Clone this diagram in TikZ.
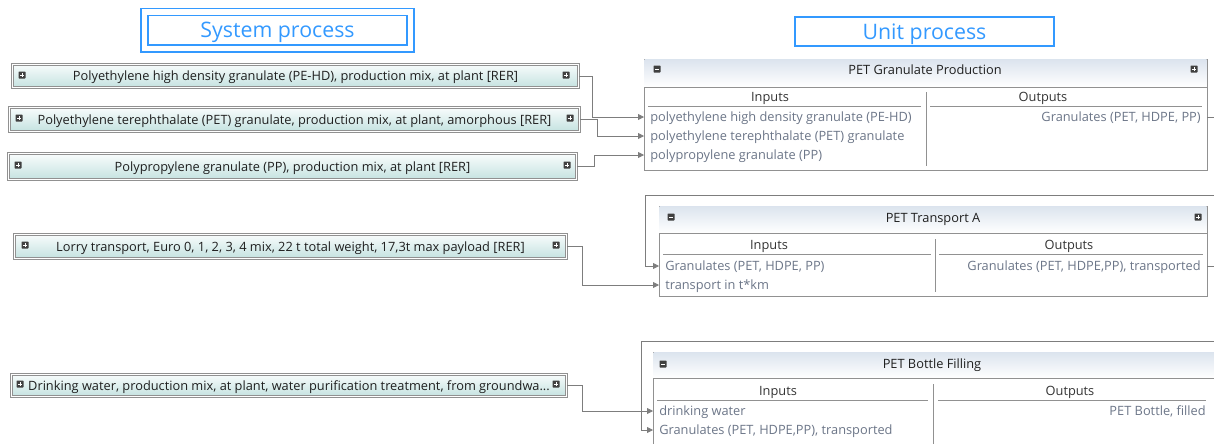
\documentclass[tikz,border=0pt]{standalone}
\usepackage{fontspec}
\setmainfont{Open Sans}
\usetikzlibrary{arrows.meta,positioning,shadings}
\definecolor{framegray}{RGB}{145,145,145}
\definecolor{linkgray}{RGB}{125,125,125}
\definecolor{titleblue}{RGB}{51,153,255}
\definecolor{rowtext}{RGB}{108,118,136}
\definecolor{tealtop}{RGB}{248,252,252}
\definecolor{tealbot}{RGB}{196,226,224}
\definecolor{headtop}{RGB}{220,228,238}
\tikzset{%
	headbox/.style={draw=titleblue, text=titleblue, inner sep=0, text depth=0pt, font=\fontsize{16}{19}\selectfont},
	sysbox/.style={draw=framegray, line width=0.7pt, double=white, double distance=0.8pt, top color=tealtop, bottom color=tealbot, inner sep=0, text depth=0pt, text=black!88, font=\fontsize{9.6}{11}\selectfont},
	unitframe/.style={draw=framegray, line width=0.75pt, fill=white},
	unitband/.style={top color=headtop, bottom color=white, draw=none},
	unittitle/.style={text=black!88, inner sep=0, text depth=0pt, font=\fontsize{9.6}{11}\selectfont},
	colhead/.style={text=black!80, inner sep=0, text depth=0pt, font=\fontsize{9.6}{11}\selectfont},
	colrule/.style={draw=framegray, line width=0.6pt},
	inrow/.style={anchor=west, text=rowtext, inner xsep=4.5pt, inner ysep=0, text depth=0pt, font=\fontsize{9.6}{11}\selectfont},
	outrow/.style={anchor=east, text=rowtext, inner xsep=4.5pt, inner ysep=0, text depth=0pt, font=\fontsize{9.6}{11}\selectfont},
	link/.style={draw=linkgray, line width=0.6pt, ->, >={Triangle[length=4.5pt,width=4.5pt]}},
	stub/.style={draw=linkgray, line width=0.6pt},
	plusicon/.pic={\fill[black!75, rounded corners=0.4pt] (-3.5,-3.5) rectangle (3.5,3.5);
		\draw[white, line width=0.7pt] (-2,0) -- (2,0) (0,-2) -- (0,2);},
	minusicon/.pic={\fill[black!75, rounded corners=0.4pt] (-3.5,-3.5) rectangle (3.5,3.5);
		\draw[white, line width=0.7pt] (-2,0) -- (2,0);}}
\begin{document}
\begin{tikzpicture}[x=0.75pt,y=-0.75pt]
	\useasboundingbox (0,0) rectangle (1214,443);
	\clip (0,0) rectangle (1214,443);

	% headings
	\node[headbox, line width=1.1pt, double=white, double distance=4pt, minimum width=266*0.75pt, minimum height=36.5*0.75pt] (sysHead) at (277.5,30.25) {System process};
	\node[headbox, line width=1.5pt, minimum width=259*0.75pt, minimum height=29*0.75pt] (unitHead) at (924.5,31.5) {Unit process};

	% system processes
	\node[sysbox, minimum width=566*0.75pt, minimum height=23.5*0.75pt] (sysPEHD) at (295.5,76) {Polyethylene high density granulate (PE-HD), production mix, at plant [RER]};
	\node[sysbox, minimum width=570*0.75pt, minimum height=24*0.75pt] (sysPET) at (294.5,119.5) {Polyethylene terephthalate (PET) granulate, production mix, at plant, amorphous [RER]};
	\node[sysbox, minimum width=568*0.75pt, minimum height=26*0.75pt] (sysPP) at (292.5,166.8) {Polypropylene granulate (PP), production mix, at plant [RER]};
	\node[sysbox, minimum width=552*0.75pt, minimum height=24*0.75pt] (sysLorry) at (290.5,246.5) {Lorry transport, Euro 0, 1, 2, 3, 4 mix, 22 t total weight, 17,3t max payload [RER]};
	\node[sysbox, minimum width=555*0.75pt, minimum height=22.5*0.75pt] (sysWater) at (289,385.5) {Drinking water, production mix, at plant, water purification treatment, from groundwa...};
	\pic at (22,75) {plusicon};  \pic at (566,75) {plusicon};
	\pic at (19,118) {plusicon}; \pic at (570,118) {plusicon};
	\pic at (18,165) {plusicon}; \pic at (567,165) {plusicon};
	\pic at (25,245) {plusicon}; \pic at (556,245) {plusicon};
	\pic at (20,384) {plusicon}; \pic at (556,384) {plusicon};

	% unit process: PET Granulate Production
	\draw[unitframe] (644,59) rectangle (1207,170);
	\fill[unitband] (644.5,59.5) rectangle (1206.5,87);
	\draw[colrule] (644,87) -- (1207,87);
	\node[unittitle] (upGranulate) at (925,70) {PET Granulate Production};
	\pic at (657,69) {minusicon}; \pic at (1194,69) {plusicon};
	\node[colhead] (gIn) at (770,97) {Inputs};
	\node[colhead] (gOutHead) at (1043,97) {Outputs};
	\draw[colrule] (648,106) -- (921,106) (930,106) -- (1202,106) (926,92) -- (926,166);
	\node[inrow] (gInPEHD) at (644,117) {polyethylene high density granulate (PE-HD)};
	\node[inrow] (gInPET) at (644,136) {polyethylene terephthalate (PET) granulate};
	\node[inrow] (gInPP) at (644,155) {polypropylene granulate (PP)};
	\node[outrow] (gOut) at (1207,117) {Granulates (PET, HDPE, PP)};

	% unit process: PET Transport A
	\draw[unitframe] (659,206) rectangle (1207,296);
	\fill[unitband] (659.5,206.5) rectangle (1206.5,233);
	\draw[colrule] (659,233) -- (1207,233);
	\node[unittitle] (upTransport) at (933,218) {PET Transport A};
	\pic at (671,217) {minusicon}; \pic at (1198,217) {plusicon};
	\node[colhead] (tIn) at (769,245) {Inputs};
	\node[colhead] (tOutHead) at (1069,245) {Outputs};
	\draw[colrule] (663,254) -- (931,254) (939,254) -- (1203,254) (935,239) -- (935,292);
	\node[inrow] (tInGran) at (659,266) {Granulates (PET, HDPE, PP)};
	\node[inrow] (tInKm) at (659,285) {transport in t*km};
	\node[outrow] (tOut) at (1207,266) {Granulates (PET, HDPE,PP), transported};

	% unit process: PET Bottle Filling
	\draw[unitframe] (653,352) rectangle (1222,470);
	\fill[unitband] (653.5,352.5) rectangle (1221,378);
	\draw[colrule] (653,378) -- (1222,378);
	\node[unittitle] (upBottle) at (932,364) {PET Bottle Filling};
	\pic at (663,364) {minusicon};
	\node[colhead] (bIn) at (778,391) {Inputs};
	\node[colhead] (bOutHead) at (1070,391) {Outputs};
	\draw[colrule] (657,400) -- (928,400) (938,400) -- (1206,400) (933,384) -- (933,450);
	\node[inrow] (bInWater) at (653,411) {drinking water};
	\node[inrow] (bInGran) at (653,430) {Granulates (PET, HDPE,PP), transported};
	\node[outrow] (bOut) at (1212,411) {PET Bottle, filled};

	% connectors
	\coordinate (loopA) at (1220,195);
	\coordinate (turnA) at (645,195);
	\coordinate (loopB) at (1220,341);
	\coordinate (turnB) at (641,341);
	\path[link] (sysPEHD.east) -- ++(13,0) |- (gInPEHD.west);
	\path[link] (sysPET.east) -- ++(17,0) |- (gInPET.west);
	\path[link] (sysPP.east) -- ++(17,0) |- (gInPP.west);
	\path[link] (sysLorry.east) -- ++(15,0) |- (tInKm.west);
	\path[link] (sysWater.east) -- ++(15,0) |- (bInWater.west);
	\path[stub] (gOut.east) -- ++(12,0);
	\path[stub] (tOut.east) -- ++(12,0);
	\path[link] (loopA) -- (turnA) |- (tInGran.west);
	\path[link] (loopB) -- (turnB) |- (bInGran.west);
\end{tikzpicture}
\end{document}
